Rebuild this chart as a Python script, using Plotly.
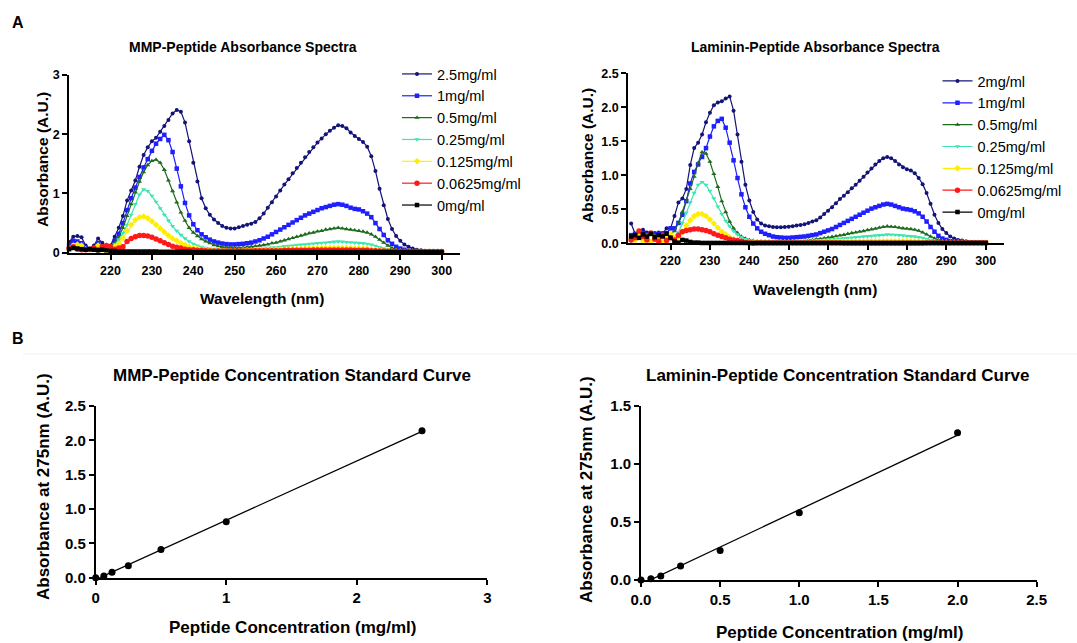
import numpy as np
import plotly.graph_objects as go

W, H = 1077, 643

# ---------------- DATA ----------------
wavelength = list(range(210, 301))  # nm

mmp_labels = ["2.5mg/ml", "1mg/ml", "0.5mg/ml", "0.25mg/ml", "0.125mg/ml", "0.0625mg/ml", "0mg/ml"]
lam_labels = ["2mg/ml", "1mg/ml", "0.5mg/ml", "0.25mg/ml", "0.125mg/ml", "0.0625mg/ml", "0mg/ml"]

mmp_2p5 = [0.18, 0.27, 0.28, 0.26, 0.12, 0.07, 0.12, 0.24, 0.17, 0.08,
           0.12, 0.27, 0.42, 0.62, 0.88, 1.05, 1.22, 1.45, 1.65, 1.78,
           1.88, 1.94, 2.04, 2.14, 2.24, 2.35, 2.41, 2.38, 2.20, 1.88,
           1.52, 1.20, 0.92, 0.75, 0.64, 0.56, 0.50, 0.45, 0.42, 0.41,
           0.41, 0.43, 0.45, 0.47, 0.49, 0.52, 0.58, 0.66, 0.76, 0.85,
           0.95, 1.05, 1.15, 1.24, 1.34, 1.43, 1.52, 1.61, 1.70, 1.78,
           1.86, 1.93, 2.00, 2.06, 2.11, 2.15, 2.14, 2.10, 2.03, 1.97,
           1.92, 1.87, 1.79, 1.63, 1.38, 1.08, 0.80, 0.57, 0.40, 0.28,
           0.20, 0.14, 0.10, 0.07, 0.05, 0.04, 0.03, 0.02, 0.02, 0.01,
           0.01]
mmp_1 = [0.12, 0.20, 0.19, 0.16, 0.08, 0.05, 0.08, 0.16, 0.10, 0.07,
         0.10, 0.20, 0.32, 0.50, 0.72, 0.92, 1.10, 1.28, 1.44, 1.58,
         1.72, 1.84, 1.92, 1.99, 1.90, 1.70, 1.42, 1.12, 0.84, 0.63,
         0.48, 0.38, 0.31, 0.26, 0.22, 0.19, 0.17, 0.155, 0.145, 0.14,
         0.14, 0.145, 0.15, 0.16, 0.17, 0.19, 0.21, 0.24, 0.27, 0.31,
         0.35, 0.39, 0.43, 0.47, 0.51, 0.55, 0.59, 0.63, 0.66, 0.69,
         0.72, 0.75, 0.77, 0.79, 0.81, 0.82, 0.81, 0.79, 0.76, 0.74,
         0.73, 0.70, 0.66, 0.60, 0.50, 0.40, 0.30, 0.21, 0.15, 0.10,
         0.07, 0.05, 0.03, 0.02, 0.01, 0.01, 0.01, 0.01, 0.01, 0.01,
         0.01]
mmp_0p5 = [0.08, 0.10, 0.09, 0.08, 0.06, 0.05, 0.06, 0.08, 0.07, 0.06,
           0.10, 0.17, 0.26, 0.42, 0.62, 0.82, 1.02, 1.20, 1.36, 1.48,
           1.55, 1.57, 1.52, 1.40, 1.22, 1.04, 0.85, 0.68, 0.54, 0.42,
           0.34, 0.28, 0.23, 0.19, 0.16, 0.13, 0.11, 0.10, 0.09, 0.085,
           0.08, 0.08, 0.085, 0.09, 0.10, 0.11, 0.12, 0.13, 0.14, 0.16,
           0.17, 0.19, 0.21, 0.23, 0.25, 0.27, 0.29, 0.31, 0.33, 0.34,
           0.36, 0.37, 0.39, 0.40, 0.41, 0.42, 0.41, 0.40, 0.39, 0.38,
           0.37, 0.36, 0.34, 0.31, 0.27, 0.22, 0.17, 0.12, 0.08, 0.05,
           0.03, 0.02, 0.02, 0.01, 0.01, 0.01, 0.01, 0.01, 0.01, 0.01,
           0.01]
mmp_0p25 = [0.05, 0.10, 0.12, 0.10, 0.05, 0.04, 0.05, 0.10, 0.06, 0.04,
            0.08, 0.14, 0.22, 0.33, 0.47, 0.64, 0.82, 0.98, 1.07, 1.04,
            0.96, 0.86, 0.75, 0.64, 0.54, 0.45, 0.37, 0.30, 0.24, 0.19,
            0.15, 0.12, 0.10, 0.08, 0.07, 0.06, 0.05, 0.05, 0.045, 0.04,
            0.04, 0.04, 0.045, 0.05, 0.055, 0.06, 0.065, 0.07, 0.08, 0.085,
            0.09, 0.10, 0.11, 0.115, 0.12, 0.13, 0.135, 0.14, 0.15, 0.155,
            0.16, 0.165, 0.17, 0.18, 0.185, 0.19, 0.185, 0.18, 0.175, 0.17,
            0.165, 0.16, 0.15, 0.135, 0.115, 0.09, 0.07, 0.05, 0.035, 0.025,
            0.02, 0.015, 0.01, 0.01, 0.01, 0.01, 0.01, 0.01, 0.01, 0.01,
            0.01]
mmp_0p125 = [0.06, 0.12, 0.14, 0.12, 0.06, 0.05, 0.06, 0.12, 0.06, 0.05,
             0.07, 0.10, 0.15, 0.25, 0.37, 0.47, 0.55, 0.60, 0.61, 0.58,
             0.53, 0.47, 0.41, 0.35, 0.29, 0.24, 0.20, 0.16, 0.13, 0.10,
             0.08, 0.07, 0.06, 0.05, 0.045, 0.04, 0.035, 0.035, 0.035, 0.035,
             0.035, 0.035, 0.04, 0.04, 0.04, 0.045, 0.045, 0.05, 0.05, 0.05,
             0.055, 0.055, 0.06, 0.06, 0.06, 0.065, 0.065, 0.07, 0.07, 0.07,
             0.075, 0.075, 0.08, 0.08, 0.08, 0.085, 0.08, 0.08, 0.08, 0.075,
             0.075, 0.07, 0.07, 0.06, 0.05, 0.04, 0.035, 0.03, 0.025, 0.02,
             0.02, 0.015, 0.015, 0.015, 0.015, 0.015, 0.015, 0.015, 0.015, 0.015,
             0.015]
mmp_0p0625 = [0.08, 0.10, 0.06, 0.05, 0.05, 0.06, 0.08, 0.05, 0.10, 0.12,
              0.10, 0.06, 0.08, 0.10, 0.19, 0.24, 0.27, 0.29, 0.29, 0.28,
              0.26, 0.23, 0.20, 0.17, 0.14, 0.11, 0.09, 0.08, 0.06, 0.05,
              0.05, 0.04, 0.04, 0.035, 0.03, 0.03, 0.03, 0.03, 0.03, 0.03,
              0.03, 0.03, 0.03, 0.03, 0.03, 0.035, 0.035, 0.035, 0.035, 0.035,
              0.035, 0.035, 0.04, 0.04, 0.04, 0.04, 0.04, 0.04, 0.04, 0.045,
              0.045, 0.045, 0.045, 0.045, 0.045, 0.045, 0.045, 0.045, 0.045, 0.04,
              0.04, 0.04, 0.04, 0.035, 0.035, 0.03, 0.03, 0.025, 0.025, 0.02,
              0.02, 0.02, 0.02, 0.02, 0.02, 0.02, 0.02, 0.02, 0.02, 0.02,
              0.02]
mmp_0 = [0.06, 0.08, 0.07, 0.06, 0.05, 0.06, 0.05, 0.04, 0.05, 0.04,
         0.03, 0.03, 0.02, 0.02, 0.02, 0.02, 0.02, 0.02, 0.02, 0.02,
         0.02, 0.02, 0.015, 0.015, 0.015, 0.015, 0.015, 0.015, 0.015, 0.015,
         0.01, 0.01, 0.01, 0.01, 0.01, 0.01, 0.01, 0.01, 0.01, 0.01,
         0.01, 0.01, 0.01, 0.01, 0.01, 0.01, 0.01, 0.01, 0.01, 0.01,
         0.01, 0.01, 0.01, 0.01, 0.01, 0.01, 0.01, 0.01, 0.01, 0.01,
         0.01, 0.01, 0.01, 0.01, 0.01, 0.01, 0.01, 0.01, 0.01, 0.01,
         0.01, 0.01, 0.01, 0.01, 0.01, 0.01, 0.01, 0.01, 0.01, 0.01,
         0.01, 0.01, 0.01, 0.01, 0.01, 0.01, 0.01, 0.01, 0.01, 0.01,
         0.01]

lam_2 = [0.29, 0.14, 0.11, 0.20, 0.16, 0.15, 0.15, 0.16, 0.15, 0.22,
         0.22, 0.40, 0.60, 0.66, 0.80, 1.15, 1.40, 1.48, 1.60, 1.78,
         1.92, 2.03, 2.07, 2.09, 2.13, 2.16, 1.95, 1.60, 1.20, 0.86,
         0.63, 0.46, 0.35, 0.29, 0.26, 0.25, 0.24, 0.235, 0.235, 0.24,
         0.245, 0.25, 0.26, 0.27, 0.28, 0.30, 0.32, 0.34, 0.38, 0.43,
         0.48, 0.53, 0.59, 0.65, 0.70, 0.75, 0.81, 0.86, 0.92, 0.98,
         1.04, 1.10, 1.16, 1.21, 1.25, 1.27, 1.25, 1.21, 1.16, 1.12,
         1.09, 1.07, 1.03, 0.96, 0.87, 0.74, 0.58, 0.42, 0.30, 0.21,
         0.15, 0.10, 0.07, 0.05, 0.04, 0.03, 0.02, 0.02, 0.01, 0.01,
         0.01]
lam_1 = [0.12, 0.14, 0.12, 0.15, 0.13, 0.14, 0.13, 0.14, 0.14, 0.15,
         0.22, 0.22, 0.30, 0.42, 0.62, 0.88, 1.05, 1.16, 1.27, 1.40,
         1.57, 1.72, 1.80, 1.83, 1.70, 1.48, 1.22, 0.96, 0.72, 0.53,
         0.39, 0.29, 0.22, 0.17, 0.14, 0.12, 0.10, 0.09, 0.085, 0.08,
         0.08, 0.085, 0.09, 0.095, 0.10, 0.11, 0.12, 0.13, 0.15, 0.17,
         0.19, 0.21, 0.24, 0.27, 0.30, 0.33, 0.36, 0.39, 0.42, 0.45,
         0.48, 0.51, 0.53, 0.55, 0.57, 0.58, 0.57, 0.55, 0.53, 0.51,
         0.50, 0.49, 0.47, 0.44, 0.39, 0.32, 0.24, 0.17, 0.11, 0.07,
         0.05, 0.03, 0.02, 0.02, 0.01, 0.01, 0.01, 0.01, 0.01, 0.01,
         0.01]
lam_0p5 = [0.10, 0.12, 0.16, 0.12, 0.10, 0.12, 0.11, 0.10, 0.12, 0.10,
           0.14, 0.18, 0.30, 0.46, 0.62, 0.80, 0.98, 1.18, 1.34, 1.32,
           1.20, 1.02, 0.83, 0.62, 0.46, 0.32, 0.22, 0.15, 0.10, 0.07,
           0.05, 0.04, 0.03, 0.03, 0.025, 0.025, 0.025, 0.025, 0.025, 0.025,
           0.025, 0.03, 0.03, 0.035, 0.04, 0.045, 0.05, 0.06, 0.065, 0.075,
           0.085, 0.095, 0.105, 0.115, 0.125, 0.14, 0.15, 0.16, 0.17, 0.18,
           0.195, 0.205, 0.215, 0.23, 0.24, 0.25, 0.245, 0.24, 0.23, 0.22,
           0.215, 0.21, 0.20, 0.185, 0.16, 0.13, 0.10, 0.07, 0.05, 0.03,
           0.02, 0.015, 0.01, 0.01, 0.01, 0.01, 0.01, 0.01, 0.01, 0.01,
           0.01]
lam_0p25 = [0.03, 0.06, 0.10, 0.05, 0.08, 0.04, 0.06, 0.05, 0.04, 0.07,
            0.12, 0.10, 0.16, 0.30, 0.45, 0.60, 0.74, 0.86, 0.90, 0.86,
            0.77, 0.66, 0.54, 0.43, 0.33, 0.25, 0.18, 0.13, 0.09, 0.06,
            0.04, 0.03, 0.02, 0.02, 0.02, 0.02, 0.02, 0.02, 0.02, 0.02,
            0.02, 0.02, 0.025, 0.025, 0.03, 0.03, 0.035, 0.04, 0.045, 0.05,
            0.055, 0.06, 0.065, 0.07, 0.075, 0.08, 0.085, 0.09, 0.095, 0.10,
            0.105, 0.11, 0.115, 0.12, 0.125, 0.13, 0.128, 0.125, 0.12, 0.115,
            0.11, 0.105, 0.10, 0.09, 0.08, 0.065, 0.05, 0.035, 0.025, 0.015,
            0.01, 0.01, 0.01, 0.01, 0.01, 0.01, 0.01, 0.01, 0.01, 0.01,
            0.01]
lam_0p125 = [0.08, 0.04, 0.14, 0.03, 0.10, 0.02, 0.08, 0.05, 0.02, 0.10,
             0.14, 0.08, 0.10, 0.17, 0.26, 0.34, 0.40, 0.43, 0.43, 0.40,
             0.35, 0.29, 0.23, 0.17, 0.13, 0.09, 0.06, 0.04, 0.03, 0.02,
             0.015, 0.015, 0.015, 0.015, 0.015, 0.015, 0.015, 0.015, 0.015, 0.015,
             0.015, 0.015, 0.015, 0.02, 0.02, 0.02, 0.02, 0.02, 0.02, 0.025,
             0.025, 0.025, 0.025, 0.025, 0.025, 0.025, 0.025, 0.025, 0.025, 0.025,
             0.03, 0.03, 0.03, 0.03, 0.03, 0.03, 0.03, 0.03, 0.03, 0.03,
             0.03, 0.03, 0.025, 0.025, 0.02, 0.02, 0.015, 0.015, 0.01, 0.01,
             0.01, 0.01, 0.01, 0.01, 0.01, 0.01, 0.01, 0.01, 0.01, 0.01,
             0.01]
lam_0p0625 = [0.05, 0.08, 0.18, 0.10, 0.05, 0.15, 0.06, 0.03, 0.12, 0.04,
              0.08, 0.05, 0.12, 0.17, 0.19, 0.20, 0.21, 0.21, 0.20, 0.19,
              0.17, 0.14, 0.12, 0.10, 0.08, 0.06, 0.05, 0.04, 0.03, 0.01,
              0.005, 0.0, 0.005, 0.005, 0.005, 0.005, 0.005, 0.005, 0.005, 0.005,
              0.005, 0.005, 0.005, 0.005, 0.005, 0.005, 0.005, 0.005, 0.005, 0.005,
              0.005, 0.005, 0.005, 0.005, 0.0, 0.0, 0.0, 0.0, 0.0, 0.0,
              0.0, 0.0, 0.0, 0.0, 0.0, 0.0, 0.0, 0.0, 0.0, 0.0,
              0.0, 0.0, 0.0, 0.0, 0.0, 0.005, 0.005, 0.005, 0.005, 0.005,
              0.005, 0.005, 0.005, 0.005, 0.005, 0.005, 0.005, 0.005, 0.005, 0.005,
              0.005]
lam_0 = [0.10, 0.12, 0.08, 0.13, 0.10, 0.14, 0.09, 0.12, 0.10, 0.14,
         0.08, 0.03, 0.01, 0.05, 0.04, 0.02, 0.01, 0.01, 0.005, 0.005,
         0.005, 0.005, 0.005, 0.005, 0.005, 0.005, 0.005, 0.005, 0.005, 0.005,
         0.005, 0.005, 0.005, 0.005, 0.005, 0.005, 0.005, 0.005, 0.005, 0.005,
         0.005, 0.005, 0.005, 0.005, 0.005, 0.005, 0.005, 0.005, 0.005, 0.005,
         0.005, 0.005, 0.005, 0.005, 0.005, 0.005, 0.005, 0.005, 0.005, 0.005,
         0.005, 0.005, 0.005, 0.005, 0.005, 0.005, 0.005, 0.005, 0.005, 0.005,
         0.005, 0.005, 0.005, 0.005, 0.005, 0.005, 0.005, 0.005, 0.005, 0.005,
         0.005, 0.005, 0.005, 0.005, 0.005, 0.005, 0.005, 0.005, 0.005, 0.005,
         0.005]

mmp_conc = [0, 0.0625, 0.125, 0.25, 0.5, 1, 2.5]
mmp_abs275 = [0, 0.025, 0.08, 0.175, 0.41, 0.815, 2.14]
lam_conc = [0, 0.0625, 0.125, 0.25, 0.5, 1, 2]
lam_abs275 = [0, 0.01, 0.035, 0.12, 0.255, 0.58, 1.27]

mmp_series = [mmp_2p5, mmp_1, mmp_0p5, mmp_0p25, mmp_0p125, mmp_0p0625, mmp_0]
lam_series = [lam_2, lam_1, lam_0p5, lam_0p25, lam_0p125, lam_0p0625, lam_0]

# ---------------- STYLE ----------------
colors = ["#141478", "#1f1fff", "#1e6b1e", "#3ce6b4", "#ffee00", "#ff1a1a", "#000000"]
symbols = ["circle", "square", "triangle-up", "triangle-down", "diamond", "circle", "square"]
msizes = [4, 4.5, 4.5, 4.5, 5, 5.5, 4.5]
FONT = "Liberation Sans, Arial, sans-serif"


def px_x(p):
    return p / W


def px_y(p):
    return 1 - p / H


fig = go.Figure()

for i, (name, ys) in enumerate(zip(mmp_labels, mmp_series)):
    fig.add_trace(go.Scatter(
        x=wavelength, y=ys, mode="lines+markers", name=name,
        line=dict(color=colors[i], width=1.2),
        marker=dict(symbol=symbols[i], size=msizes[i], color=colors[i], line=dict(width=0)),
        xaxis="x", yaxis="y", legend="legend", cliponaxis=False))

for i, (name, ys) in enumerate(zip(lam_labels, lam_series)):
    fig.add_trace(go.Scatter(
        x=wavelength, y=ys, mode="lines+markers", name=name,
        line=dict(color=colors[i], width=1.2),
        marker=dict(symbol=symbols[i], size=msizes[i], color=colors[i], line=dict(width=0)),
        xaxis="x2", yaxis="y2", legend="legend2", cliponaxis=False))

# standard curves
for conc, ab, xa, ya in [(mmp_conc, mmp_abs275, "x3", "y3"), (lam_conc, lam_abs275, "x4", "y4")]:
    slope, intercept = np.polyfit(conc, ab, 1)
    xf = np.array([0.0, max(conc)])
    fig.add_trace(go.Scatter(x=xf, y=slope * xf + intercept, mode="lines",
                             line=dict(color="black", width=1.3), showlegend=False,
                             xaxis=xa, yaxis=ya))
    fig.add_trace(go.Scatter(x=conc, y=ab, mode="markers",
                             marker=dict(color="black", size=7), showlegend=False,
                             xaxis=xa, yaxis=ya, cliponaxis=False))

axis_common = dict(showline=True, linecolor="black", linewidth=1.6, ticks="outside",
                   ticklen=5, tickwidth=1.6, tickcolor="black", showgrid=False,
                   zeroline=False, fixedrange=True, automargin=False)

tick_top = dict(family=FONT, size=12.5, color="black", weight="bold")
tick_bot = dict(family=FONT, size=15, color="black", weight="bold")
leg_font = dict(family=FONT, size=14.5, color="black")

fig.update_layout(
    width=W, height=H, margin=dict(l=0, r=0, t=0, b=0, autoexpand=False),
    paper_bgcolor="white", plot_bgcolor="white",
    font=dict(family=FONT, color="black"),
    xaxis=dict(domain=[px_x(69.1), px_x(460.3)], range=[210, 304.5], anchor="y",
               tickvals=[220, 230, 240, 250, 260, 270, 280, 290, 300], tickfont=tick_top, **axis_common),
    yaxis=dict(domain=[px_y(252.7), px_y(75)], range=[0, 3], anchor="x",
               tickvals=[0, 1, 2, 3], tickfont=tick_top, **axis_common),
    xaxis2=dict(domain=[px_x(628), px_x(1003.8)], range=[209.2, 304.6], anchor="y2",
                tickvals=[220, 230, 240, 250, 260, 270, 280, 290, 300], tickfont=tick_top, **axis_common),
    yaxis2=dict(domain=[px_y(243.3), px_y(73.3)], range=[0, 2.5], anchor="x2",
                tickvals=[0, 0.5, 1, 1.5, 2, 2.5], tickformat=".1f", tickfont=tick_top, **axis_common),
    xaxis3=dict(domain=[px_x(95.7), px_x(487.3)], range=[0, 3], anchor="y3",
                tickvals=[0, 1, 2, 3], tickfont=tick_bot, **axis_common),
    yaxis3=dict(domain=[px_y(577.7), px_y(406)], range=[0, 2.5], anchor="x3",
                tickvals=[0, 0.5, 1, 1.5, 2, 2.5], tickformat=".1f", tickfont=tick_bot, **axis_common),
    xaxis4=dict(domain=[px_x(641), px_x(1036.7)], range=[0, 2.5], anchor="y4",
                tickvals=[0, 0.5, 1, 1.5, 2, 2.5], tickformat=".1f", tickfont=tick_bot, **axis_common),
    yaxis4=dict(domain=[px_y(580), px_y(406)], range=[0, 1.5], anchor="x4",
                tickvals=[0, 0.5, 1, 1.5], tickformat=".1f", tickfont=tick_bot, **axis_common),
    legend=dict(x=px_x(397), y=px_y(58), xanchor="left", yanchor="top",
                font=leg_font, bgcolor="rgba(0,0,0,0)"),
    legend2=dict(x=px_x(937.5), y=px_y(65), xanchor="left", yanchor="top",
                 font=leg_font, bgcolor="rgba(0,0,0,0)"),
    showlegend=True,
)


def ann(text, xp, yp, size, angle=0):
    fig.add_annotation(text=text, x=px_x(xp), y=px_y(yp), xref="paper", yref="paper",
                       xanchor="center", yanchor="middle", showarrow=False, textangle=angle,
                       font=dict(family=FONT, size=size, color="black", weight="bold"))


ann("A", 18, 22, 16)
ann("B", 18, 338, 16)
ann("MMP-Peptide Absorbance Spectra", 243, 47, 14)
ann("Laminin-Peptide Absorbance Spectra", 815, 47, 14)
ann("Wavelength (nm)", 262, 298, 15.5)
ann("Wavelength (nm)", 815, 290, 15.5)
ann("Absorbance (A.U.)", 42, 160, 15.5, -90)
ann("Absorbance (A.U.)", 587, 156, 15.5, -90)
ann("MMP-Peptide Concentration Standard Curve", 292, 375, 17)
ann("Laminin-Peptide Concentration Standard Curve", 838, 375, 17)
ann("Peptide Concentration (mg/ml)", 292, 627, 17)
ann("Peptide Concentration (mg/ml)", 839, 632, 17)
ann("Absorbance at 275nm (A.U.)", 43, 487, 17, -90)
ann("Absorbance at 275nm (A.U.)", 587, 490, 17, -90)

fig.add_shape(type="line", xref="paper", yref="paper", x0=px_x(23), x1=1, y0=px_y(354), y1=px_y(354),
              line=dict(color="#f0f0f0", width=1))

# the page body has a default 8px margin; remove it so the figure starts at the window corner
fig.write_html("out.html",
               config={"displayModeBar": False},
               post_script="document.body.style.margin='0px';document.body.style.overflow='hidden';")
